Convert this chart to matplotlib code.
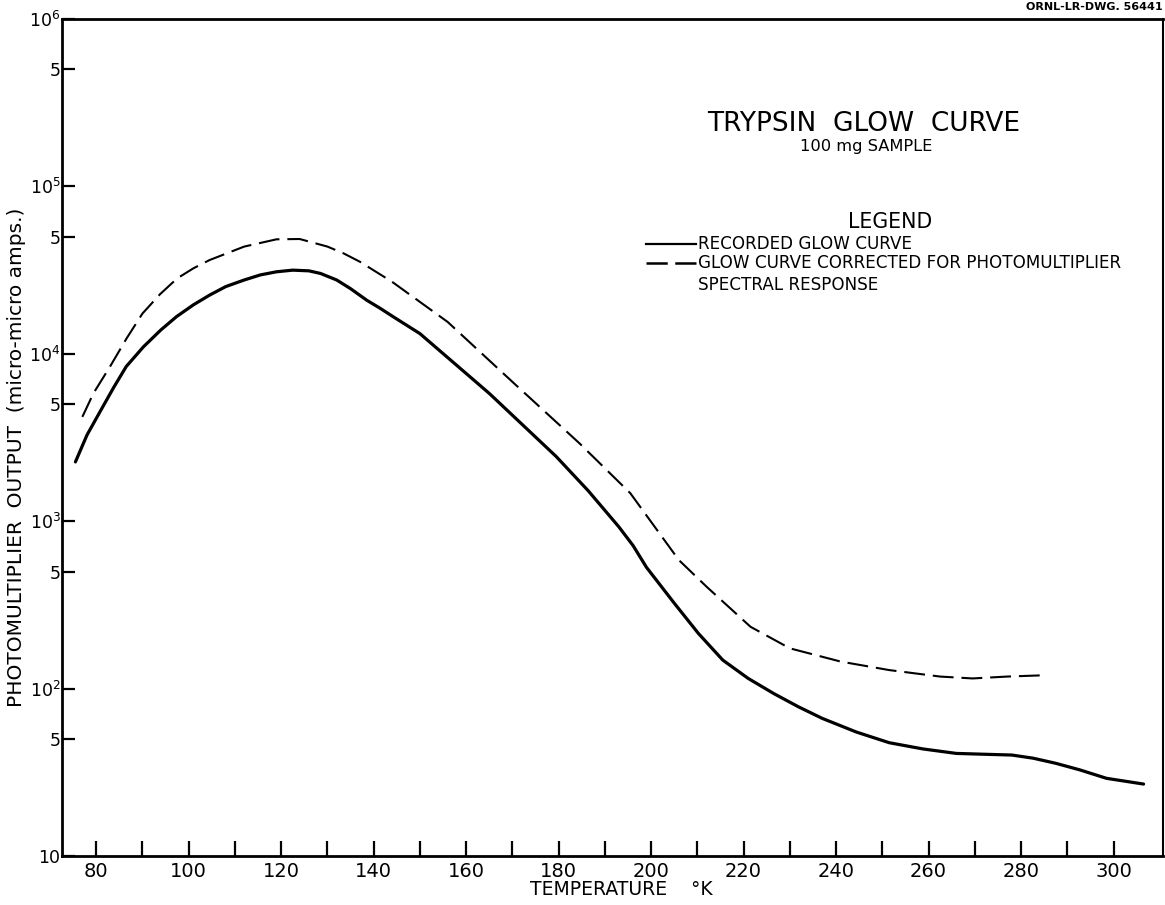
import numpy as np
import matplotlib
matplotlib.use("Agg")
import matplotlib.pyplot as plt

plt.rcParams['font.family'] = ['DejaVu Sans']
plt.rcParams['mathtext.fontset'] = 'dejavusans'

# Recorded glow curve (temperature in deg K, output in micro-micro amps)
temp_recorded = [75.5, 78, 81, 83.8, 86.5, 90.2, 94, 97.4, 101, 104.5, 108,
                 112, 115.5, 119, 122.5, 126, 128.5, 132, 135, 138.5, 141.4,
                 144.3, 150, 165, 179.5, 186.4, 193, 196.1, 199, 205, 210.2,
                 215.5, 221, 226.5, 231.8, 237, 244.4, 251.5, 258.8, 266,
                 272.5, 278, 282.6, 287.5, 292.7, 298.5, 306.5]
output_recorded = [2260, 3270, 4600, 6310, 8400, 11000, 13900, 16700, 19600,
                   22400, 25200, 27600, 29600, 30900, 31600, 31300, 30200,
                   27600, 24500, 20900, 18700, 16600, 13200, 5800, 2430, 1520,
                   927, 715, 530, 324, 214, 148, 115, 93.5, 78, 66.4, 55,
                   47.5, 43.6, 41.0, 40.5, 40.1, 38.4, 35.8, 32.7, 29.1, 26.9]

# Glow curve corrected for photomultiplier spectral response
temp_corrected = [77, 79.4, 83, 86.6, 90, 93.8, 97.5, 101, 104.5, 112, 119,
                  124, 130, 133.5, 137, 140.5, 144, 156, 170, 184.5, 195.5,
                  206, 212, 221.5, 230, 241, 251.5, 262.5, 269.5, 277, 284.5]
output_corrected = [4200, 5810, 8400, 12400, 17400, 22700, 28200, 32400,
                    36300, 43700, 48300, 48500, 43700, 39800, 35500, 30900,
                    26900, 15500, 6800, 2920, 1470, 586, 406, 234, 174, 145,
                    129, 118, 115, 118, 120]

x_major = [80, 100, 120, 140, 160, 180, 200, 220, 240, 260, 280, 300]
x_minor = [90, 110, 130, 150, 170, 190, 210, 230, 250, 270, 290]
y_ticks = [10, 50, 100, 500, 1e3, 5e3, 1e4, 5e4, 1e5, 5e5, 1e6]
y_labels = ['10', '5', r'$10^2$', '5', r'$10^3$', '5', r'$10^4$', '5',
            r'$10^5$', '5', r'$10^6$']

W, H = 1165, 905
fig = plt.figure(figsize=(W / 100, H / 100), dpi=100)
ax = fig.add_axes([62 / W, (H - 856) / H, (1163 - 62) / W, (856 - 19) / H])

ax.plot(temp_recorded, output_recorded, color='black', lw=2.3,
        solid_capstyle='round', solid_joinstyle='round')
ax.plot(temp_corrected, output_corrected, color='black', lw=1.5,
        dashes=(10, 3.8), dash_joinstyle='round')

ax.set_yscale('log')
ax.set_xlim(72.6, 310.7)
ax.set_ylim(10, 1e6)

ax.set_xticks(x_major)
ax.set_xticklabels([str(v) for v in x_major])
ax.set_xticks(x_minor, minor=True)
ax.set_yticks(y_ticks)
ax.set_yticklabels(y_labels)
ax.yaxis.set_minor_locator(matplotlib.ticker.NullLocator())

ax.tick_params(axis='x', which='both', direction='in', length=11, width=1.6,
               labelsize=14, pad=4, top=False)
ax.tick_params(axis='y', which='both', direction='in', length=9, width=1.6,
               labelsize=12.5, pad=1, right=False)

for side in ['left', 'bottom', 'top']:
    ax.spines[side].set_linewidth(2.0)
ax.spines['right'].set_linewidth(1.5)


def px(x, y):
    return x / W, (H - y) / H


fig.text(*px(17, 457), 'PHOTOMULTIPLIER  OUTPUT  (micro-micro amps.)',
         rotation=90, ha='center', va='center', fontsize=14.5)
fig.text(*px(621, 889), 'TEMPERATURE    °K', ha='center', va='center',
         fontsize=13.5)
fig.text(*px(1163, 7), 'ORNL-LR-DWG. 56441', ha='right', va='center',
         fontsize=8, fontweight='bold')

fig.text(*px(864, 131), 'TRYPSIN  GLOW  CURVE', ha='center',
         va='baseline', fontsize=19)
fig.text(*px(866, 147), '100 mg SAMPLE', ha='center', va='center',
         fontsize=11.7)
fig.text(*px(890, 222), 'LEGEND', ha='center', va='center', fontsize=14.8)

# legend keys, placed in pixel positions through the data transform
inv = ax.transData.inverted()
for y_px, style in [(244, dict(lw=1.6)), (263, dict(lw=1.8, dashes=(8.5, 3)))]:
    (xa, ya), (xb, _) = inv.transform([(646, H - y_px), (696, H - y_px)])
    ax.plot([xa, xb], [ya, ya], color='black', clip_on=False, **style)

fig.text(*px(698, 244), 'RECORDED GLOW CURVE', ha='left', va='center',
         fontsize=12.1)
fig.text(*px(698, 263), 'GLOW CURVE CORRECTED FOR PHOTOMULTIPLIER',
         ha='left', va='center', fontsize=12.1)
fig.text(*px(698, 285), 'SPECTRAL RESPONSE', ha='left', va='center',
         fontsize=12.1)

fig.savefig('out.png', dpi=100)
